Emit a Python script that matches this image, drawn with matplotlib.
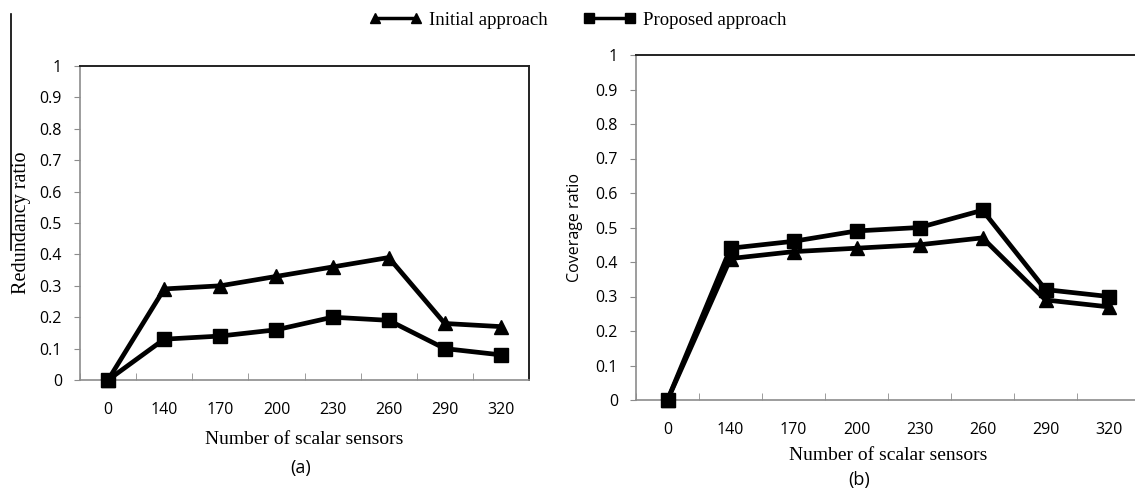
import matplotlib
matplotlib.use("Agg")
import matplotlib.pyplot as plt
from matplotlib.lines import Line2D

# --- data ---
sensors = ["0", "140", "170", "200", "230", "260", "290", "320"]
redund_initial = [0, 0.29, 0.30, 0.33, 0.36, 0.39, 0.18, 0.17]
redund_proposed = [0, 0.13, 0.14, 0.16, 0.20, 0.19, 0.10, 0.08]
cover_initial = [0, 0.41, 0.43, 0.44, 0.45, 0.47, 0.29, 0.27]
cover_proposed = [0, 0.44, 0.46, 0.49, 0.50, 0.55, 0.32, 0.30]
yticks = [0, 0.1, 0.2, 0.3, 0.4, 0.5, 0.6, 0.7, 0.8, 0.9, 1]
ytick_labels = ["0", "0.1", "0.2", "0.3", "0.4", "0.5", "0.6", "0.7", "0.8", "0.9", "1"]

W, H = 1135, 492
fig = plt.figure(figsize=(W / 100, H / 100), dpi=100)

sans = "Open Sans"
serif = "Liberation Serif"
gray = "#8c8c8c"


def box(x0, y0, x1, y1):
    # pixel box -> figure fractions
    return [x0 / W, 1 - y1 / H, (x1 - x0) / W, (y1 - y0) / H]


def setup(ax):
    n = len(sensors)
    ax.set_xlim(0, n)
    ax.set_ylim(0, 1)
    ax.set_xticks([i + 0.5 for i in range(n)])
    ax.set_xticklabels(sensors, fontfamily=sans, fontsize=11.5)
    ax.set_xticks(range(n + 1), minor=True)
    ax.tick_params(axis="x", which="major", length=0, pad=16)
    ax.tick_params(axis="x", which="minor", length=5, color=gray, direction="in")
    ax.set_yticks(yticks)
    ax.set_yticklabels(ytick_labels, fontfamily=sans, fontsize=11.5)
    ax.tick_params(axis="y", length=4, color=gray, pad=9)
    for s in ["left", "bottom"]:
        ax.spines[s].set_color(gray)
        ax.spines[s].set_linewidth(1.2)
    for s in ["top", "right"]:
        ax.spines[s].set_color("#222222")
        ax.spines[s].set_linewidth(1.4)


def draw(ax, a, b):
    xs = [i + 0.5 for i in range(len(sensors))]
    ax.plot(xs, a, color="black", lw=3.4, marker="^", ms=10, clip_on=False, zorder=3)
    ax.plot(xs, b, color="black", lw=3.4, marker="s", ms=10, clip_on=False, zorder=3)


# (a) redundancy
ax1 = fig.add_axes(box(80, 66, 529, 380))
setup(ax1)
draw(ax1, redund_initial, redund_proposed)
ax1.set_xlabel("Number of scalar sensors", fontfamily=serif, fontsize=14, labelpad=9)
ax1.set_ylabel("Redundancy ratio", fontfamily=serif, fontsize=14.5, labelpad=6)
fig.text(301 / W, 1 - 468 / H, "(a)", ha="center", va="center", fontfamily=sans, fontsize=13)

# (b) coverage
ax2 = fig.add_axes(box(636, 55, 1140, 400))
setup(ax2)
ax2.spines["right"].set_visible(False)
draw(ax2, cover_initial, cover_proposed)
ax2.set_xlabel("Number of scalar sensors", fontfamily=serif, fontsize=14, labelpad=6)
ax2.set_ylabel("Coverage ratio", fontfamily=sans, fontsize=11.5, labelpad=9)
fig.text(859 / W, 1 - 480 / H, "(b)", ha="center", va="center", fontfamily=sans, fontsize=13)

# stray vertical line at far left
fig.add_artist(Line2D([11 / W, 11 / W], [1 - 14 / H, 1 - 250 / H], color="black", lw=1.2))

# shared legend
handles = [
    Line2D([], [], color="black", lw=2.5, marker="^", ms=7),
    Line2D([], [], color="black", lw=2.5, marker="s", ms=7),
]
fig.legend(handles, ["Initial approach", "Proposed approach"],
           loc="center", bbox_to_anchor=(578 / W, 1 - 20 / H), ncol=2, frameon=False,
           prop={"family": serif, "size": 13.5}, handlelength=2.8, numpoints=2,
           columnspacing=1.9, handletextpad=0.4)

fig.savefig("out.png", dpi=100)
